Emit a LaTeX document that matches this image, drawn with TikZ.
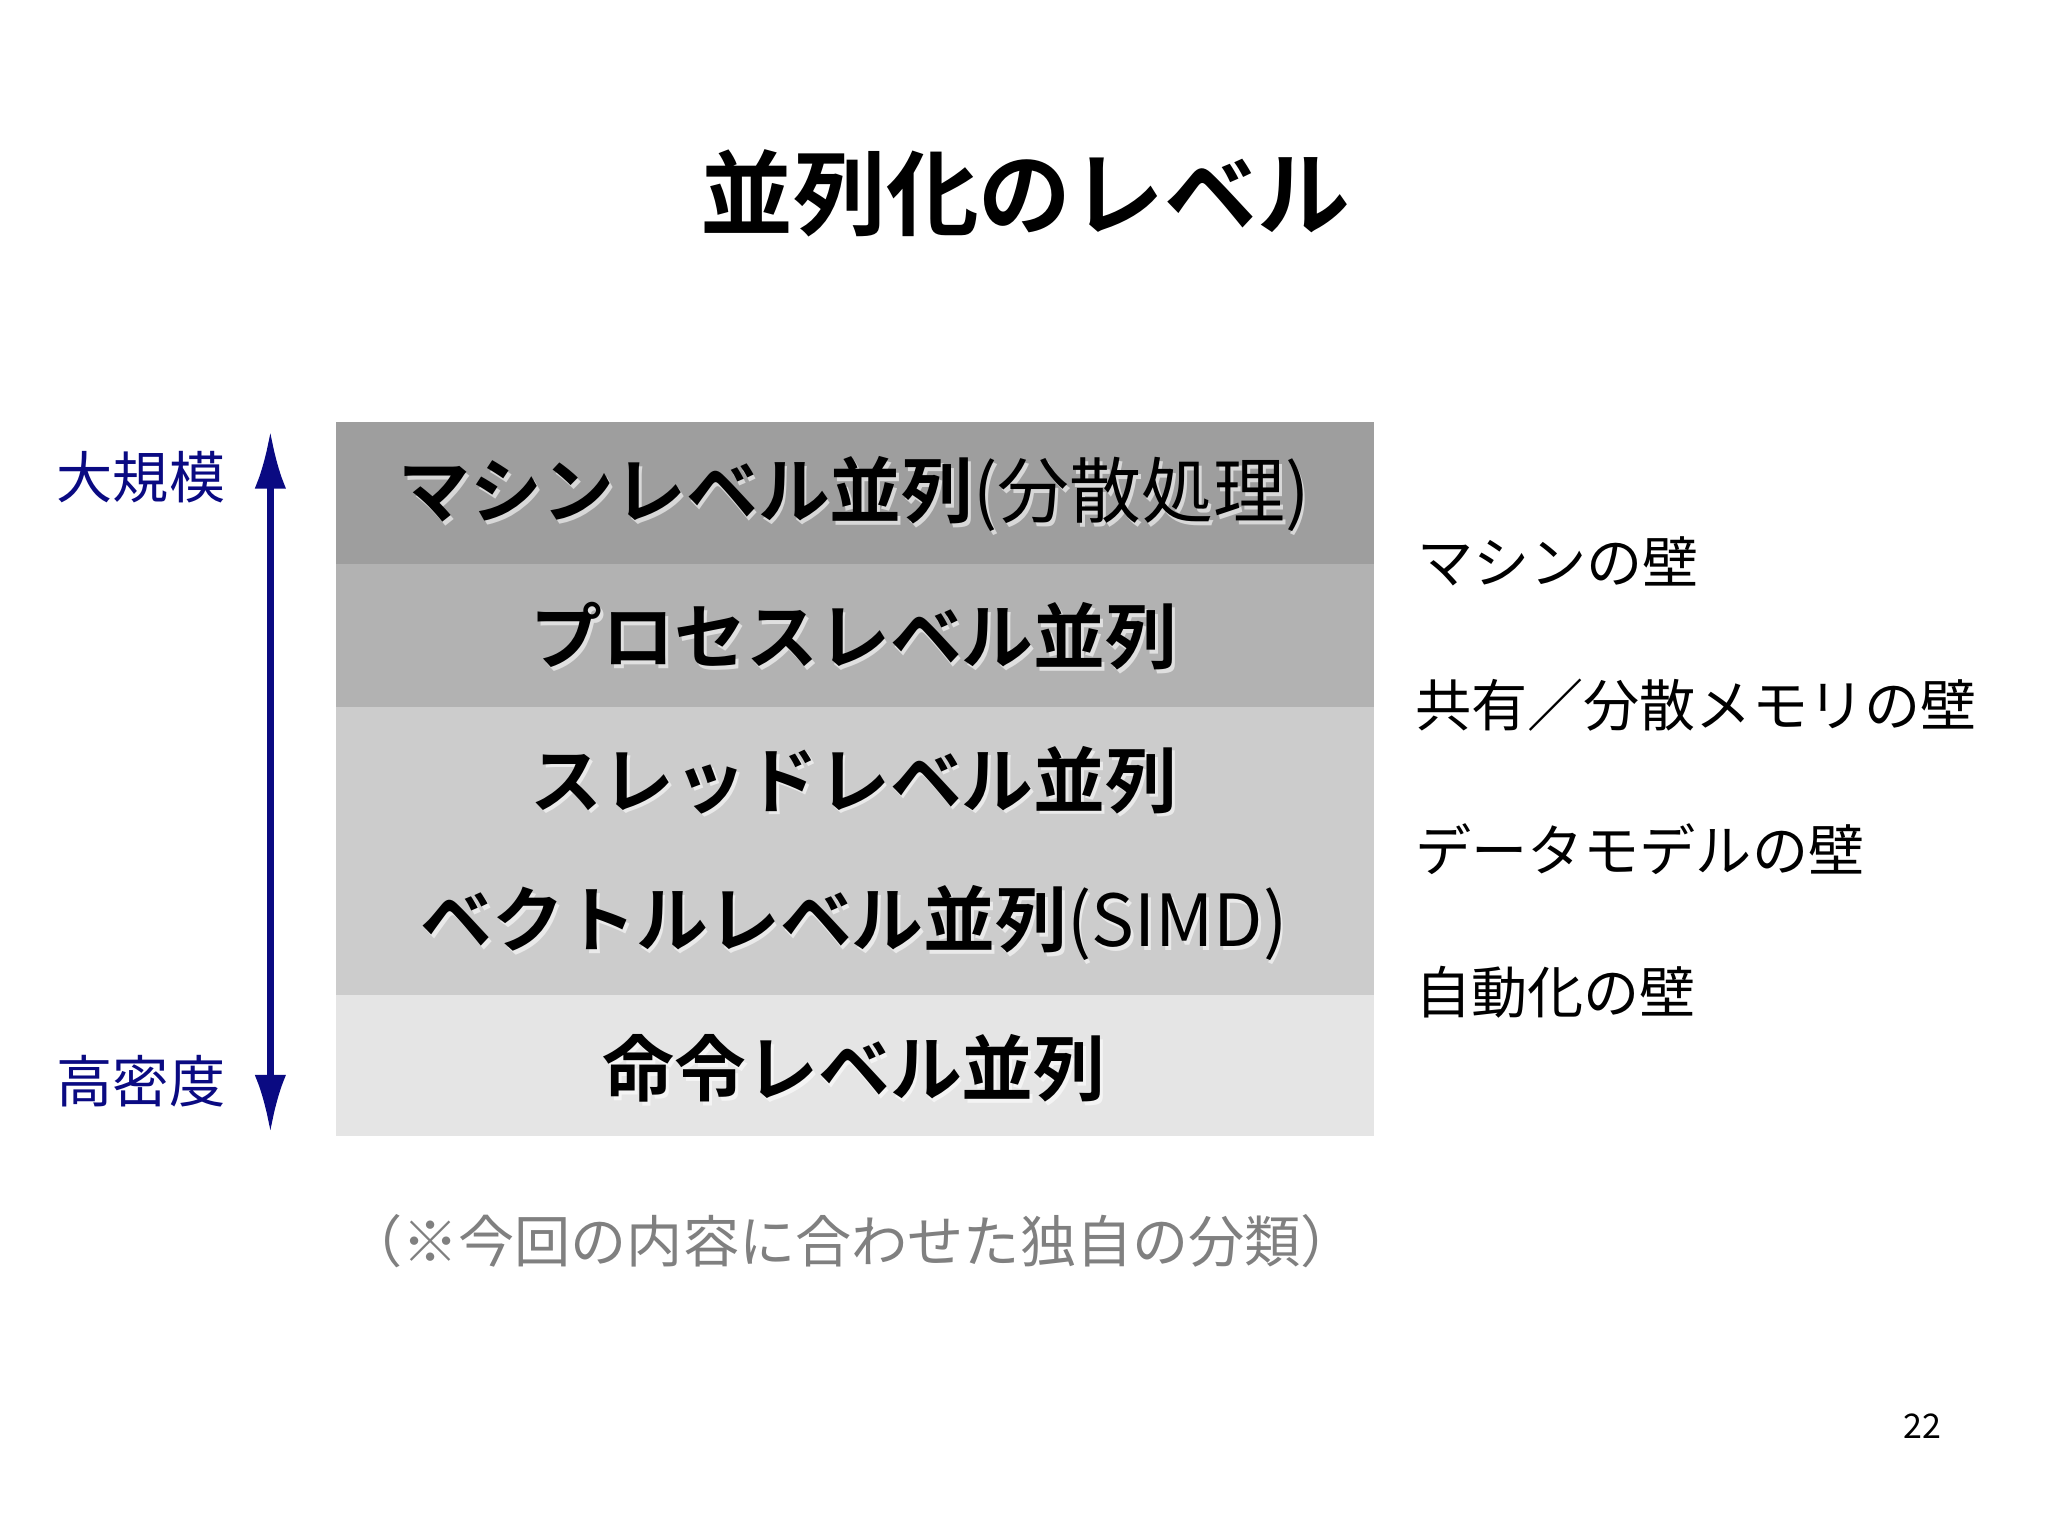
\documentclass[tikz,border=0pt]{standalone}
\usetikzlibrary{arrows.meta}
\usepackage{fontspec}
\setmainfont{Noto Sans CJK JP}
\newfontfamily\jpb{Noto Sans CJK JP Bold}
\newfontfamily\jpr{Noto Sans CJK JP}
\definecolor{navy}{RGB}{10,10,130}
\begin{document}
\begin{tikzpicture}[x=0.5pt,y=-0.5pt,
  band/.style={fill=#1,draw=none},
  lvl/.style={font=\jpb\fontsize{27.5pt}{27.5pt}\selectfont,inner sep=0},
  lbl/.style={font=\fontsize{21.5pt}{21.5pt}\selectfont,inner sep=0},
  wall/.style={font=\fontsize{21.5pt}{21.5pt}\selectfont,inner sep=0,anchor=west}]
\useasboundingbox (0,0) rectangle (1568,1175);
\fill[white] (0,0) rectangle (1568,1175);
\node[font=\jpb\fontsize{35.5pt}{35.5pt}\selectfont] (title) at (785,148) {並列化のレベル};
\fill[band={black!38}] (257,323) rectangle (1052,432);
\fill[band={black!30}] (257,432) rectangle (1052,541);
\fill[band={black!20}] (257,541) rectangle (1052,762);
\fill[band={black!10}] (257,762) rectangle (1052,870);
\foreach \y/\t/\n in {378/{マシンレベル並列{\jpr(分散処理)}}/a,487/プロセスレベル並列/b,597/スレッドレベル並列/c,707/{ベクトルレベル並列{\jpr(SIMD)}}/d,818/命令レベル並列/e}{
  \node[lvl,text=white,opacity=0.6] at (656,\y+3) {\t};
  \node[lvl] (\n) at (654,\y) {\t};}
\coordinate (top) at (207,330);
\coordinate (bot) at (207,867);
\draw[navy,line width=2.4pt,{Latex[length=22pt,width=12pt]}-{Latex[length=22pt,width=12pt]}] (top) -- (bot);
\node[lbl,text=navy] (big) at (108,365) {大規模};
\node[lbl,text=navy] (dense) at (108,828) {高密度};
\node[wall] (w1) at (1085,430) {マシンの壁};
\node[wall] (w2) at (1083,540) {共有／分散メモリの壁};
\node[wall] (w3) at (1083,650) {データモデルの壁};
\node[wall] (w4) at (1083,760) {自動化の壁};
\node[lbl,text=black!50] (note) at (652,950) {（※今回の内容に合わせた独自の分類）};
\node[font=\fontsize{13pt}{13pt}\selectfont] (pg) at (1472,1092) {22};
\end{tikzpicture}
\end{document}
